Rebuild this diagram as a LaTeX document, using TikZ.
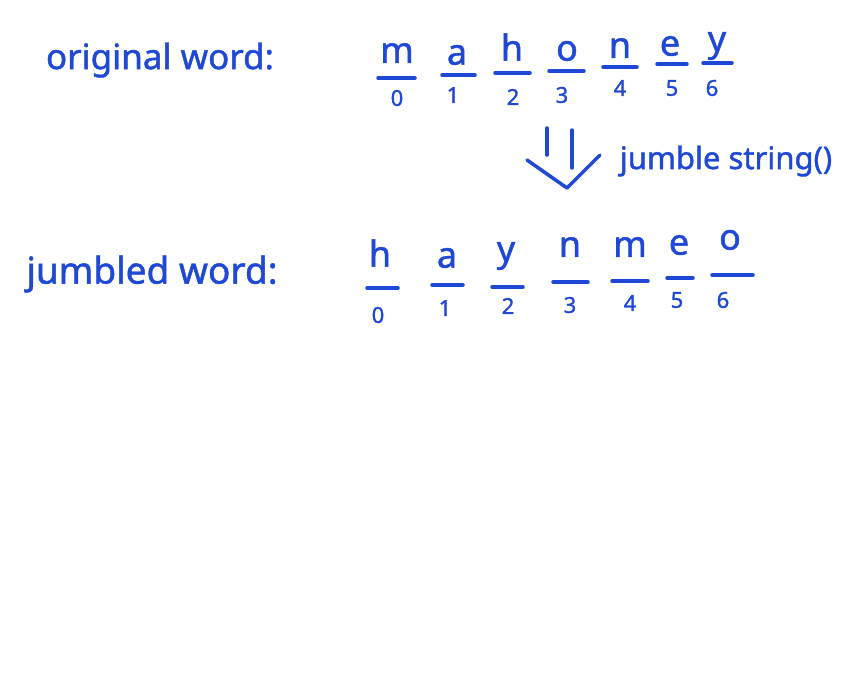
\documentclass[tikz,border=0pt]{standalone}
\usepackage{fontspec}
\setmainfont{Noto Sans}
\newfontfamily\handfont[FakeBold=1.3]{Noto Sans}
\definecolor{hand}{RGB}{32,72,214}
\begin{document}
\begin{tikzpicture}[x=1pt,y=-1pt,
  ink/.style={draw=hand, line width=3.5pt, line cap=round, line join=round},
  lbl/.style={text=hand, font=\handfont\fontsize{35}{40}\selectfont, inner sep=0pt},
  letter/.style={text=hand, font=\handfont\fontsize{36}{40}\selectfont, inner sep=0pt},
  digit/.style={text=hand, font=\handfont\fontsize{22}{26}\selectfont, inner sep=0pt}]
\useasboundingbox[fill=white] (0,0) rectangle (860,675);

% labels
\node[lbl] (orig) at (160,60) {original word:};
\node[lbl, font=\handfont\fontsize{37}{42}\selectfont] (jumb) at (152,274) {jumbled word:};
\node[lbl, font=\handfont\fontsize{31}{36}\selectfont] (func) at (726,161) {jumble string()};

% top row
\foreach \i/\x/\y/\c/\la/\lb/\ly/\dx/\dy in
  {0/397/53/m/378/415/78/397/98,
   1/457/55/a/442/475/75/453/95,
   2/512/47/h/495/530/73/513/97,
   3/567/51/o/549/584/71/562/95,
   4/620/48/n/603/637/67/620/88,
   5/670/46/e/657/687/64/672/88,
   6/717/46/y/703/732/63/712/88}{
  \node[letter] (t\i) at (\x,\y) {\c};
  \coordinate (tl\i) at (\la,\ly);
  \coordinate (tr\i) at (\lb,\ly);
  \draw[ink] (tl\i) -- (tr\i);
  \node[digit] (td\i) at (\dx,\dy) {\i};
}

% bottom row
\foreach \i/\x/\y/\c/\la/\lb/\ly/\dx/\dy in
  {0/380/253/h/367/398/288/378/315,
   1/447/258/a/432/463/285/445/308,
   2/506/256/y/492/523/287/508/306,
   3/570/247/n/553/588/282/570/305,
   4/630/247/m/612/648/281/630/303,
   5/679/245/e/667/693/278/677/300,
   6/730/240/o/712/753/275/723/300}{
  \node[letter] (b\i) at (\x,\y) {\c};
  \coordinate (bl\i) at (\la,\ly);
  \coordinate (br\i) at (\lb,\ly);
  \draw[ink] (bl\i) -- (br\i);
  \node[digit] (bd\i) at (\dx,\dy) {\i};
}

% arrow
\coordinate (s1a) at (547,128);
\coordinate (s1b) at (547,155);
\coordinate (s2a) at (572,130);
\coordinate (s2b) at (572,168);
\coordinate (vl) at (527,160);
\coordinate (vt) at (567,188);
\coordinate (vr) at (600,155);
\draw[ink] (s1a) -- (s1b);
\draw[ink] (s2a) -- (s2b);
\draw[ink] (vl) -- (vt) -- (vr);
\end{tikzpicture}
\end{document}
